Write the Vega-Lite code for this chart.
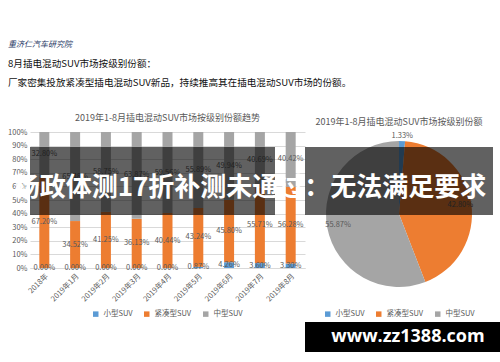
{
  "$schema": "https://vega.github.io/schema/vega-lite/v6.json",
  "background": "white",
  "padding": {"left": 0, "top": 41, "right": 0, "bottom": 2},
  "bounds": "flush",
  "config": {
    "font": "Noto Sans CJK SC",
    "view": {"stroke": null},
    "concat": {"spacing": 0},
    "legend": {"layout": {"bottom": {"anchor": "middle"}}}
  },
  "title": {
    "text": "重济仁汽车研究院",
    "subtitle": ["8月插电混动SUV市场按级别份额：", "厂家密集投放紧凑型插电混动SUV新品，持续推高其在插电混动SUV市场的份额。"],
    "anchor": "start",
    "frame": "bounds",
    "dx": 8,
    "fontSize": 8,
    "fontStyle": "italic",
    "fontWeight": "normal",
    "color": "#1f3864",
    "subtitleFontSize": 9.6,
    "subtitleColor": "#111111",
    "subtitleLineHeight": 19,
    "subtitlePadding": 10,
    "offset": 26
  },
  "datasets": {
    "trend": [
      {"period": "2018年", "type": "小型SUV", "o": 1, "share": 0},
      {"period": "2018年", "type": "紧凑型SUV", "o": 2, "share": 0.672},
      {"period": "2018年", "type": "中型SUV", "o": 3, "share": 0.328},
      {"period": "2019年1月", "type": "小型SUV", "o": 1, "share": 0},
      {"period": "2019年1月", "type": "紧凑型SUV", "o": 2, "share": 0.3452},
      {"period": "2019年1月", "type": "中型SUV", "o": 3, "share": 0.6548},
      {"period": "2019年2月", "type": "小型SUV", "o": 1, "share": 0},
      {"period": "2019年2月", "type": "紧凑型SUV", "o": 2, "share": 0.4125},
      {"period": "2019年2月", "type": "中型SUV", "o": 3, "share": 0.5875},
      {"period": "2019年3月", "type": "小型SUV", "o": 1, "share": 0},
      {"period": "2019年3月", "type": "紧凑型SUV", "o": 2, "share": 0.3613},
      {"period": "2019年3月", "type": "中型SUV", "o": 3, "share": 0.6387},
      {"period": "2019年4月", "type": "小型SUV", "o": 1, "share": 0},
      {"period": "2019年4月", "type": "紧凑型SUV", "o": 2, "share": 0.4044},
      {"period": "2019年4月", "type": "中型SUV", "o": 3, "share": 0.5956},
      {"period": "2019年5月", "type": "小型SUV", "o": 1, "share": 0.0087},
      {"period": "2019年5月", "type": "紧凑型SUV", "o": 2, "share": 0.4324},
      {"period": "2019年5月", "type": "中型SUV", "o": 3, "share": 0.5589},
      {"period": "2019年6月", "type": "小型SUV", "o": 1, "share": 0.0426},
      {"period": "2019年6月", "type": "紧凑型SUV", "o": 2, "share": 0.458},
      {"period": "2019年6月", "type": "中型SUV", "o": 3, "share": 0.4994},
      {"period": "2019年7月", "type": "小型SUV", "o": 1, "share": 0.036},
      {"period": "2019年7月", "type": "紧凑型SUV", "o": 2, "share": 0.5571},
      {"period": "2019年7月", "type": "中型SUV", "o": 3, "share": 0.4069},
      {"period": "2019年8月", "type": "小型SUV", "o": 1, "share": 0.033},
      {"period": "2019年8月", "type": "紧凑型SUV", "o": 2, "share": 0.5628},
      {"period": "2019年8月", "type": "中型SUV", "o": 3, "share": 0.4042}
    ],
    "pie": [
      {"type": "小型SUV", "o": 1, "share": 0.0133},
      {"type": "紧凑型SUV", "o": 2, "share": 0.428},
      {"type": "中型SUV", "o": 3, "share": 0.5587}
    ],
    "overlay": [
      {"headline": "杨政体测17折补测未通过：无法满足要求", "site": "www.zz1388.com"}
    ]
  },
  "resolve": {"scale": {"color": "independent"}, "legend": {"color": "independent"}},
  "hconcat": [
    {
      "width": 275,
      "height": 136,
      "title": {"text": "2019年1-8月插电混动SUV市场按级别份额趋势", "fontSize": 9, "fontWeight": "normal", "color": "#595959", "offset": 5},
      "layer": [
        {
          "data": {"name": "trend"},
          "mark": {"type": "bar", "size": 10},
          "encoding": {
            "x": {
              "field": "period", "type": "nominal", "sort": null,
              "scale": {"paddingInner": 0.67, "paddingOuter": 0.3},
              "axis": {"title": null, "labelAngle": -45, "labelFontSize": 7.5, "labelColor": "#595959", "domainColor": "#d9d9d9", "ticks": false, "labelPadding": 4}
            },
            "y": {
              "field": "share", "type": "quantitative", "stack": "zero",
              "scale": {"domain": [0, 1]},
              "axis": {"title": null, "values": [0, 0.1, 0.2, 0.3, 0.4, 0.5, 0.6, 0.7, 0.8, 0.9, 1], "format": ".0%", "domain": false, "ticks": false, "gridColor": "#d9d9d9", "labelFontSize": 7.5, "labelColor": "#595959", "labelPadding": 3, "labelOverlap": false, "minExtent": 30, "maxExtent": 30}
            },
            "order": {"field": "o", "type": "quantitative"},
            "color": {
              "field": "type", "type": "nominal",
              "scale": {"domain": ["小型SUV", "紧凑型SUV", "中型SUV"], "range": ["#5B9BD5", "#ED7D31", "#A5A5A5"]},
              "legend": {"title": null, "orient": "bottom", "direction": "horizontal", "symbolType": "square", "symbolSize": 30, "labelFontSize": 7.5, "labelColor": "#595959", "offset": 7, "columnPadding": 10}
            }
          }
        },
        {
          "data": {"name": "trend"},
          "transform": [
            {"stack": "share", "groupby": ["period"], "sort": [{"field": "o", "order": "ascending"}], "as": ["s0", "s1"]},
            {"calculate": "(datum.s0 + datum.s1) / 2", "as": "mid"}
          ],
          "mark": {"type": "text", "fontSize": 7.5, "color": "#595959"},
          "encoding": {
            "x": {"field": "period", "type": "nominal", "sort": null},
            "y": {
              "field": "mid", "type": "quantitative",
              "axis": {"title": null, "values": [0, 0.1, 0.2, 0.3, 0.4, 0.5, 0.6, 0.7, 0.8, 0.9, 1], "format": ".0%", "domain": false, "ticks": false, "gridColor": "#d9d9d9", "labelFontSize": 7.5, "labelColor": "#595959", "labelPadding": 3, "labelOverlap": false, "minExtent": 30, "maxExtent": 30}
            },
            "text": {"field": "share", "type": "quantitative", "format": ".2%"}
          }
        },
        {
          "data": {"name": "overlay"},
          "mark": {"type": "rect", "color": "#000000", "opacity": 0.62, "xOffset": -30},
          "encoding": {
            "y": {
              "datum": 0.89, "type": "quantitative",
              "axis": {"title": null, "values": [0, 0.1, 0.2, 0.3, 0.4, 0.5, 0.6, 0.7, 0.8, 0.9, 1], "format": ".0%", "domain": false, "ticks": false, "gridColor": "#d9d9d9", "labelFontSize": 7.5, "labelColor": "#595959", "labelPadding": 3, "labelOverlap": false, "minExtent": 30, "maxExtent": 30}
            },
            "y2": {"datum": 0.39}
          }
        }
      ]
    },
    {
      "width": 188,
      "height": 164,
      "title": {"text": "2019年1-8月插电混动SUV市场按级别份额", "fontSize": 9, "fontWeight": "normal", "color": "#595959", "offset": 5},
      "layer": [
        {
          "data": {"name": "pie"},
          "mark": {"type": "arc", "outerRadius": 73},
          "encoding": {
            "theta": {"field": "share", "type": "quantitative", "stack": true},
            "order": {"field": "o", "type": "quantitative"},
            "color": {
              "field": "type", "type": "nominal",
              "scale": {"domain": ["小型SUV", "紧凑型SUV", "中型SUV"], "range": ["#5B9BD5", "#ED7D31", "#A5A5A5"]},
              "legend": {"title": null, "orient": "bottom", "direction": "horizontal", "symbolType": "square", "symbolSize": 30, "labelFontSize": 7.5, "labelColor": "#595959", "offset": 14, "columnPadding": 10}
            }
          }
        },
        {
          "data": {"name": "pie"},
          "mark": {"type": "text", "radius": 62, "fontSize": 7.5, "color": "#595959"},
          "encoding": {
            "theta": {"field": "share", "type": "quantitative", "stack": true},
            "order": {"field": "o", "type": "quantitative"},
            "text": {"condition": {"test": "datum.o == 1", "value": ""}, "field": "share", "type": "quantitative", "format": ".2%"}
          }
        },
        {
          "data": {"name": "pie"},
          "mark": {"type": "text", "radius": 78, "fontSize": 7.5, "color": "#595959"},
          "encoding": {
            "theta": {"field": "share", "type": "quantitative", "stack": true},
            "order": {"field": "o", "type": "quantitative"},
            "text": {"condition": {"test": "datum.o != 1", "value": ""}, "field": "share", "type": "quantitative", "format": ".2%"}
          }
        },
        {
          "data": {"name": "overlay"},
          "mark": {"type": "rect", "color": "#000000", "opacity": 0.62, "x2Offset": 7},
          "encoding": {
            "y": {"datum": 0.89, "type": "quantitative", "scale": {"domain": [-0.206, 1], "nice": false, "zero": false}, "axis": null},
            "y2": {"datum": 0.39}
          }
        },
        {
          "data": {"name": "overlay"},
          "mark": {"type": "text", "color": "#ffffff", "fontSize": 26, "fontWeight": "bold", "dx": -149, "baseline": "middle"},
          "encoding": {
            "y": {"datum": 0.585, "type": "quantitative"},
            "text": {"field": "headline"}
          }
        },
        {
          "data": {"name": "overlay"},
          "mark": {"type": "rect", "color": "#000000", "xOffset": 22, "x2Offset": -3},
          "encoding": {
            "y": {"datum": -0.397, "type": "quantitative"},
            "y2": {"datum": -0.618}
          }
        },
        {
          "data": {"name": "overlay"},
          "mark": {"type": "text", "color": "#ffffff", "fontSize": 18, "fontWeight": "bold", "dx": 9, "baseline": "middle", "font": "Open Sans"},
          "encoding": {
            "y": {"datum": -0.507, "type": "quantitative"},
            "text": {"field": "site"}
          }
        }
      ]
    }
  ]
}
